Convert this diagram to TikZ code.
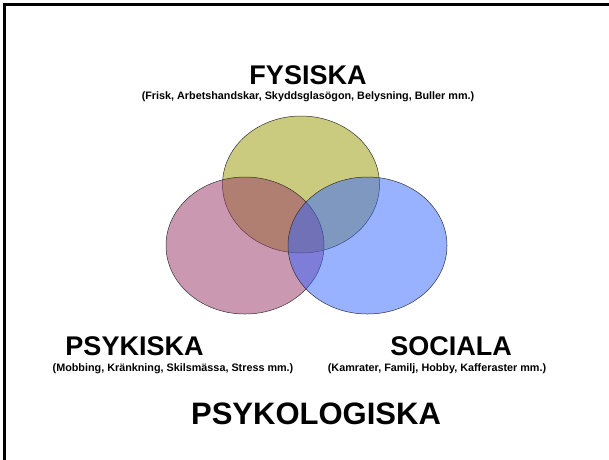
\documentclass[tikz,border=0pt]{standalone}
\usepackage{fontspec}
\setmainfont{Liberation Sans}
\definecolor{fysfill}{RGB}{153,153,0}
\definecolor{psyfill}{RGB}{153,51,102}
\definecolor{socfill}{RGB}{51,102,255}
\definecolor{rimcol}{RGB}{50,50,50}
\tikzset{
  area/.style={draw=rimcol, line width=0.5pt, fill opacity=0.5},
  heading/.style={anchor=base, inner sep=0pt, font=\fontsize{27}{30}\selectfont\bfseries},
  bigheading/.style={anchor=base, inner sep=0pt, font=\fontsize{31}{34}\selectfont\bfseries},
  examples/.style={anchor=base, inner sep=0pt, font=\fontsize{10.8}{13}\selectfont\bfseries},
}
\begin{document}
\begin{tikzpicture}[x=1pt, y=-1pt]
  \useasboundingbox (0,0) rectangle (609,459);
  \fill[white] (0,0) rectangle (609,459);
  \begin{scope}
    \clip (0,0) rectangle (609,459);
    \draw[line width=3pt] (4.5,4.5) rectangle (620,470);
  \end{scope}

  % the three overlapping areas
  \draw[area, fill=fysfill] (301,184.5) ellipse [x radius=78.5, y radius=68.5];
  \draw[area, fill=psyfill] (245,245.5) ellipse [x radius=79, y radius=68.5];
  \draw[area, fill=socfill] (367.5,245.5) ellipse [x radius=79.5, y radius=68.5];

  % labels
  \node[heading] (tfys) at (308,84) {FYSISKA};
  \node[examples] (efys) at (308,99) {(Frisk, Arbetshandskar, Skyddsglasögon, Belysning, Buller mm.)};
  \node[heading] (tpsy) at (134.5,355) {PSYKISKA};
  \node[examples] (epsy) at (173,371) {(Mobbing, Kränkning, Skilsmässa, Stress mm.)};
  \node[heading] (tsoc) at (451,355) {SOCIALA};
  \node[examples] (esoc) at (437,371) {(Kamrater, Familj, Hobby, Kafferaster mm.)};
  \node[bigheading] (tpsl) at (316,424) {PSYKOLOGISKA};
\end{tikzpicture}
\end{document}
